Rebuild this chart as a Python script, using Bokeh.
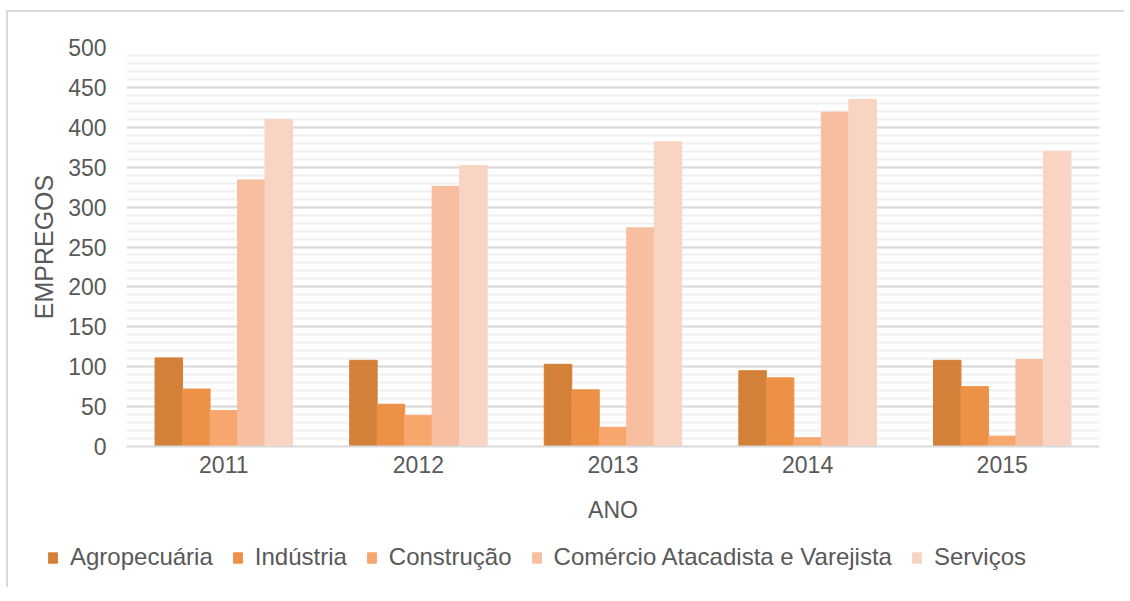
from bokeh.plotting import figure
from bokeh.models import (FactorRange, Range1d, SingleIntervalTicker, Legend, LegendItem,
                          ColumnDataSource)
from bokeh.transform import dodge
from bokeh.embed import file_html
from bokeh.resources import INLINE

years = ["2011", "2012", "2013", "2014", "2015"]
series_names = ["Agropecuária", "Indústria", "Construção",
                "Comércio Atacadista e Varejista", "Serviços"]
agropecuaria = [111, 108, 103, 95, 108]
industria = [72, 53, 71, 86, 75]
construcao = [45, 39, 24, 11, 13]
comercio = [334, 326, 274, 419, 109]
servicos = [410, 352, 382, 435, 370]
colors = ["#D38038", "#EC9146", "#F7A66E", "#F8BEA0", "#FAD4C3"]

src = ColumnDataSource(dict(year=years, s0=agropecuaria, s1=industria, s2=construcao,
                            s3=comercio, s4=servicos))

FONT = "Liberation Sans"
TXT = "#595959"

p = figure(x_range=FactorRange(*years, range_padding=0), y_range=Range1d(0, 500),
           width=1118, height=517, output_backend="svg", toolbar_location=None,
           min_border_left=118, min_border_top=35, min_border_right=27, min_border_bottom=83)
p.outline_line_color = None
p.styles = {"margin-left": "6px", "margin-top": "10px",
            "border-left": "2px solid #d9d9d9", "border-top": "2px solid #d9d9d9"}

bw = 0.1413
for i, col in enumerate(["s0", "s1", "s2", "s3", "s4"]):
    p.vbar(x=dodge("year", (i - 2) * bw, range=p.x_range), top=col, width=bw,
           source=src, fill_color=colors[i], line_color=colors[i])

p.yaxis.ticker = SingleIntervalTicker(interval=50, num_minor_ticks=5)
p.ygrid.grid_line_color = "#d9d9d9"
p.ygrid.grid_line_width = 2
p.ygrid.minor_grid_line_color = "#f0f0f0"
p.ygrid.minor_grid_line_width = 2
p.xgrid.grid_line_color = None

for ax in (p.xaxis[0], p.yaxis[0]):
    ax.major_tick_line_color = None
    ax.minor_tick_line_color = None
    ax.major_label_text_font = FONT
    ax.major_label_text_font_size = "23px"
    ax.major_label_text_color = TXT
    ax.axis_label_text_font = FONT
    ax.axis_label_text_font_size = "23px"
    ax.axis_label_text_color = TXT
    ax.axis_label_text_font_style = "normal"

p.yaxis.axis_line_color = None
p.yaxis.axis_label = "EMPREGOS"
p.yaxis.axis_label_text_font_size = "25px"
p.yaxis.major_label_standoff = 14
p.yaxis.axis_label_standoff = 7
p.xaxis.axis_line_color = "#d9d9d9"
p.xaxis.axis_line_width = 2
p.xaxis.axis_label = "ANO"
p.xaxis.major_label_standoff = 3
p.xaxis.axis_label_standoff = 21

# legend strip below the chart (separate root so its frame spans the full width)
lf = figure(x_range=Range1d(0, 1), y_range=Range1d(0, 1), width=1118, height=60,
            output_backend="svg", toolbar_location=None,
            min_border_left=0, min_border_right=0, min_border_top=0, min_border_bottom=0)
lf.styles = {"margin-left": "6px", "border-left": "2px solid #d9d9d9"}
lf.axis.visible = False
lf.grid.grid_line_color = None
lf.outline_line_color = None
items = []
for name, c in zip(series_names, colors):
    r = lf.vbar(x=[-5], top=[-5], width=0.1, fill_color=c, line_color=c)
    items.append(LegendItem(label=name, renderers=[r]))
legend = Legend(items=items, orientation="horizontal", location=(39, 16),
                glyph_width=11, glyph_height=13, label_standoff=12, spacing=19,
                padding=0, margin=0, border_line_color=None, background_fill_alpha=0,
                label_text_font=FONT, label_text_font_size="24px", label_text_color=TXT)
lf.add_layout(legend, "center")

open("out.html", "w").write(file_html([p, lf], INLINE))
